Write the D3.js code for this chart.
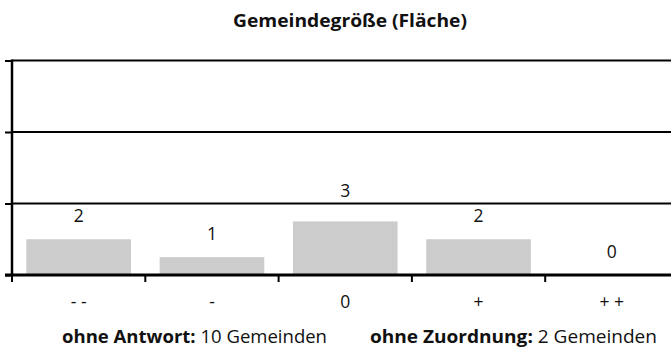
<!DOCTYPE html>
<html>
<head>
<meta charset="utf-8">
<script src="https://cdn.jsdelivr.net/npm/d3@7"></script>
<style>
  html, body { margin: 0; padding: 0; background: #fff; }
  svg { display: block; font-family: "Open Sans", "Noto Sans", sans-serif; }
</style>
</head>
<body>
<svg id="chart" width="671" height="351"></svg>
<script>
// Antworten je Kategorie
const categories = ["- -", "-", "0", "+", "+ +"];
const counts = [2, 1, 3, 2, 0];
const yTicks = [0, 4, 8, 12];
const title = "Gemeindegröße (Fläche)";
const notes = [
  { bold: "ohne Antwort:", rest: " 10 Gemeinden" },
  { bold: "ohne Zuordnung:", rest: " 2 Gemeinden" }
];

(function () {
const svg = d3.select("#chart");
const plotLeft = 12, plotRight = 678.5, plotTop = 60.5, plotBottom = 275;

const x = d3.scaleBand()
  .domain(categories)
  .range([plotLeft, plotRight])
  .paddingInner(0.215)
  .paddingOuter(0.1075);

const y = d3.scaleLinear().domain([0, 12]).range([plotBottom, plotTop]);

// Titel
svg.append("text")
  .attr("x", 350).attr("y", 27)
  .attr("text-anchor", "middle")
  .attr("font-weight", "bold")
  .attr("font-size", 18)
  .attr("textLength", 234)
  .attr("lengthAdjust", "spacingAndGlyphs")
  .attr("fill", "#111")
  .text(title);

// Balken
svg.selectAll("rect.bar")
  .data(counts)
  .join("rect")
  .attr("class", "bar")
  .attr("x", (d, i) => x(categories[i]))
  .attr("width", x.bandwidth())
  .attr("y", d => y(d))
  .attr("height", d => plotBottom - y(d))
  .attr("fill", "#cccccc");

// Horizontale Gitterlinien
svg.selectAll("line.grid")
  .data(yTicks.filter(t => t > 0))
  .join("line")
  .attr("class", "grid")
  .attr("x1", plotLeft).attr("x2", 671)
  .attr("y1", d => y(d)).attr("y2", d => y(d))
  .attr("stroke", "#000").attr("stroke-width", 2);

// y-Achse mit Strichen nach links
const yAxis = svg.append("g").attr("transform", `translate(${plotLeft},0)`)
  .call(d3.axisLeft(y).tickValues(yTicks).tickSize(7).tickFormat(""));
yAxis.select(".domain").remove();
yAxis.selectAll(".tick line").attr("stroke", "#000").attr("stroke-width", 2);
svg.append("line")
  .attr("x1", plotLeft).attr("x2", plotLeft)
  .attr("y1", y(12) - 1).attr("y2", plotBottom)
  .attr("stroke", "#000").attr("stroke-width", 2.5);

// x-Achse: Striche an den Kategoriegrenzen
const xBounds = categories.map(c => x(c) - x.step() * x.paddingInner() / 2);
svg.selectAll("line.xtick")
  .data(xBounds)
  .join("line")
  .attr("class", "xtick")
  .attr("x1", d => d).attr("x2", d => d)
  .attr("y1", plotBottom).attr("y2", plotBottom + 7)
  .attr("stroke", "#000").attr("stroke-width", 2);
svg.append("line")
  .attr("x1", plotLeft - 7).attr("x2", 671)
  .attr("y1", plotBottom).attr("y2", plotBottom)
  .attr("stroke", "#000").attr("stroke-width", 3);

// Kategoriebeschriftungen
svg.selectAll("text.cat")
  .data(categories)
  .join("text")
  .attr("class", "cat")
  .attr("x", d => x(d) + x.bandwidth() / 2)
  .attr("y", 308)
  .attr("text-anchor", "middle")
  .attr("font-size", 17.5)
  .attr("fill", "#111")
  .text(d => d);

// Wertebeschriftungen über den Balken, weichen Gitterlinien aus
svg.selectAll("text.val")
  .data(counts)
  .join("text")
  .attr("class", "val")
  .attr("x", (d, i) => x(categories[i]) + x.bandwidth() / 2)
  .attr("y", d => {
    let base = y(d) - 17;
    const topEdge = base - 13;
    yTicks.forEach(t => {
      const gy = y(t);
      if (gy > topEdge && gy < base + 2) base = gy - 6.5;
    });
    return base;
  })
  .attr("text-anchor", "middle")
  .attr("font-size", 17.5)
  .attr("fill", "#111")
  .text(d => d);

// Hinweise unter dem Diagramm
const noteX = [62, 370];
const noteW = [265, 287];
notes.forEach((n, i) => {
  const t = svg.append("text")
    .attr("x", noteX[i]).attr("y", 343)
    .attr("font-size", 18)
    .attr("textLength", noteW[i])
    .attr("lengthAdjust", "spacingAndGlyphs")
    .attr("fill", "#111");
  t.append("tspan").attr("font-weight", "bold").text(n.bold);
  t.append("tspan").text(n.rest);
});
})();
</script>
</body>
</html>
